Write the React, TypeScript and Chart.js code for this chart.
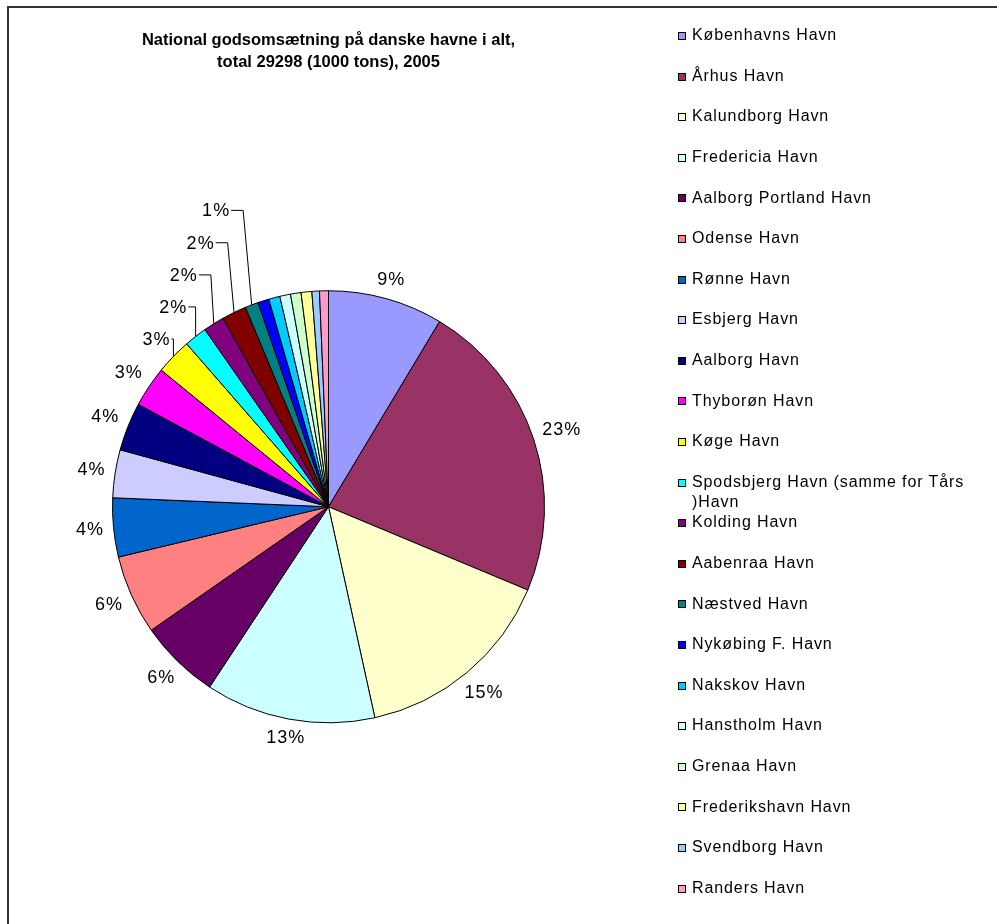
import React, { useEffect, useRef } from "react";
import { Chart, registerables } from "chart.js";

Chart.register(...registerables);

const harbours = [
  "Københavns Havn",
  "Århus Havn",
  "Kalundborg Havn",
  "Fredericia Havn",
  "Aalborg Portland Havn",
  "Odense Havn",
  "Rønne Havn",
  "Esbjerg Havn",
  "Aalborg Havn",
  "Thyborøn Havn",
  "Køge Havn",
  "Spodsbjerg Havn (samme for Tårs )Havn",
  "Kolding Havn",
  "Aabenraa Havn",
  "Næstved Havn",
  "Nykøbing F. Havn",
  "Nakskov Havn",
  "Hanstholm Havn",
  "Grenaa Havn",
  "Frederikshavn Havn",
  "Svendborg Havn",
  "Randers Havn",
];

// 1000 tons, 2005 (total 29298)
const volumes = [
  2520, 6650, 4470, 3728, 1770, 1740, 1290, 1050, 1060, 890, 790, 500, 460, 540,
  290, 245, 245, 235, 230, 235, 165, 195,
];

const sliceColors = [
  "#9999FF",
  "#993366",
  "#FFFFCC",
  "#CCFFFF",
  "#660066",
  "#FF8080",
  "#0066CC",
  "#CCCCFF",
  "#000080",
  "#FF00FF",
  "#FFFF00",
  "#00FFFF",
  "#800080",
  "#800000",
  "#008080",
  "#0000FF",
  "#00CCFF",
  "#CCFFFF",
  "#CCFFCC",
  "#FFFF99",
  "#99CCFF",
  "#FF99CC",
];

// number of slices that carry a percentage label in the original
const labelledSlices = 15;

const titleLines = [
  "National godsomsætning på danske havne i alt,",
  "total 29298 (1000 tons), 2005",
];

const FONT = '"Liberation Sans", Arial, Helvetica, sans-serif';

const pctLabelsPlugin = {
  id: "pctLabels",
  afterDatasetsDraw(chart: any) {
    const ctx = chart.ctx as CanvasRenderingContext2D;
    const meta = chart.getDatasetMeta(0);
    const data = chart.data.datasets[0].data as number[];
    const total = data.reduce((a, b) => a + b, 0);
    ctx.save();
    ctx.font = `18px ${FONT}`;
    (ctx as any).letterSpacing = "1px";
    ctx.fillStyle = "#000";
    ctx.strokeStyle = "#000";
    ctx.lineWidth = 1;
    ctx.textAlign = "center";
    ctx.textBaseline = "middle";
    const H = 13;
    const gap = 9;
    const rowH = 32;
    const padX = 20;
    const placed: { x: number; y: number; w: number; ul: boolean }[] = [];
    meta.data.forEach((arc: any, i: number) => {
      if (i >= labelledSlices) return;
      const p = arc.getProps(["x", "y", "startAngle", "endAngle", "outerRadius"], true);
      const mid = (p.startAngle + p.endAngle) / 2;
      const ux = Math.cos(mid);
      const uy = Math.sin(mid);
      const ul = ux < 0 && uy < 0;
      const text = Math.round((data[i] / total) * 100) + "%";
      const w = ctx.measureText(text).width;
      const ext = (Math.abs(ux) * w) / 2 + (Math.abs(uy) * H) / 2;
      const d0 = p.outerRadius + gap + ext;
      let d = d0;
      let lx = p.x + ux * d;
      let ly = p.y + uy * d;
      const prev = placed.length ? placed[placed.length - 1] : null;
      const hits = (extra: number) =>
        placed.some(
          (q) => Math.abs(lx - q.x) < (w + q.w) / 2 + padX && Math.abs(ly - q.y) < rowH + extra
        ) ||
        (ul && prev !== null && prev.ul && ly > prev.y - rowH - extra);
      const crowded = hits(2);
      let guard = 0;
      while (hits(0) && guard < 2000) {
        d += 0.5;
        lx = p.x + ux * d;
        ly = p.y + uy * d;
        guard++;
      }
      if (crowded || d - d0 > 1) {
        const ax = p.x + ux * p.outerRadius;
        const ay = p.y + uy * p.outerRadius;
        const sx = ux < 0 ? lx + w / 2 + 1 : lx - w / 2 - 1;
        const hx = ux < 0 ? Math.min(sx + 12, ax) : Math.max(sx - 12, ax);
        ctx.beginPath();
        ctx.moveTo(sx, ly - 1);
        ctx.lineTo(hx, ly - 1);
        ctx.lineTo(ax, ay);
        ctx.stroke();
      }
      ctx.fillText(text, lx, ly);
      placed.push({ x: lx, y: ly, w, ul });
    });
    ctx.restore();
  },
};

export default function App() {
  const canvasRef = useRef<HTMLCanvasElement | null>(null);

  useEffect(() => {
    if (!canvasRef.current) return;
    const chart = new Chart(canvasRef.current, {
      type: "pie",
      data: {
        labels: harbours,
        datasets: [
          {
            data: volumes,
            backgroundColor: sliceColors,
            borderColor: "#000",
            borderWidth: 1,
            hoverOffset: 0,
          },
        ],
      },
      options: {
        responsive: false,
        animation: false,
        devicePixelRatio: 1,
        radius: 216,
        layout: { padding: { left: 112, right: 452, top: 21, bottom: 4 } },
        plugins: {
          legend: { display: false },
          tooltip: { enabled: false },
          title: {
            display: true,
            text: titleLines,
            color: "#000",
            font: { family: FONT, size: 16.5, weight: "bold", lineHeight: 1.35 },
            padding: { top: 8, bottom: 20 },
          },
        },
      } as any,
      plugins: [pctLabelsPlugin],
    });
    return () => chart.destroy();
  }, []);

  return (
    <div
      style={{
        position: "absolute",
        left: 0,
        top: 0,
        width: 997,
        height: 924,
        overflow: "hidden",
        background: "#fff",
        fontFamily: FONT,
      }}
    >
      <div
        style={{
          position: "absolute",
          left: 7,
          top: 6,
          width: 1100,
          height: 1100,
          borderLeft: "2px solid #333",
          borderTop: "2px solid #333",
        }}
      />
      <canvas
        ref={canvasRef}
        width={997}
        height={924}
        style={{ position: "absolute", left: 0, top: 0, width: 997, height: 924 }}
      />
      {harbours.map((name, i) => {
        const cy = 36 + i * 40.6;
        return (
          <div key={name}>
            <div
              style={{
                position: "absolute",
                left: 678,
                top: cy - 4,
                width: 6,
                height: 6,
                border: "1px solid #000",
                background: sliceColors[i],
              }}
            />
            <div
              style={{
                position: "absolute",
                left: 692,
                top: cy - 10.75,
                width: 300,
                fontSize: 16,
                lineHeight: "20.5px",
                letterSpacing: "0.9px",
                color: "#000",
              }}
            >
              {name}
            </div>
          </div>
        );
      })}
    </div>
  );
}
